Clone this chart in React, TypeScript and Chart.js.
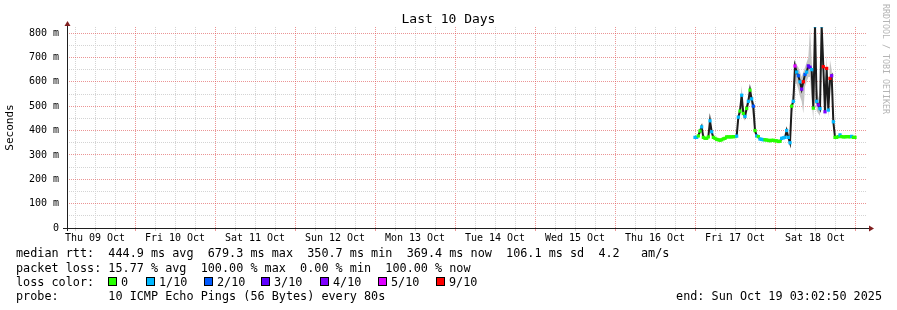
import React, { useEffect, useRef } from 'react';
import { Chart, registerables } from 'chart.js';

Chart.register(...registerables);

// hours since Thu 09 Oct 00:00
const HOURS = [
  192, 192.5, 193, 193.5, 194, 194.5, 195, 195.5, 196, 196.5, 197, 197.5, 198, 198.5, 199, 199.5,
  200, 200.5, 201, 201.5, 202, 202.5, 203, 203.5, 204, 204.5, 205, 205.5, 206, 206.5, 207, 207.5,
  208, 208.5, 209, 209.5, 210, 210.5, 211, 211.5, 212, 212.5, 213, 213.5, 214, 214.5, 215, 215.5,
  216, 216.5, 217, 217.5, 218, 218.5, 219, 219.5, 220, 220.5, 221, 221.5, 222, 222.5, 223, 223.5,
  224, 224.5, 225, 225.5, 226, 226.5, 227, 227.5, 228, 228.5, 229, 229.5, 230, 230.5, 231, 231.5,
  232, 232.5, 233, 233.5, 234, 234.5, 235, 235.5, 236, 236.5, 237, 237.5, 238, 238.5, 239, 239.5, 240,
];

// median rtt (ms)
const MEDIAN = [
  372, 372, 378, 398, 415, 372, 368, 368, 374, 440, 395, 372, 368, 364, 362, 360,
  362, 366, 368, 374, 374, 374, 374, 375, 375, 377, 455, 480, 545, 470, 458, 491,
  520, 566, 530, 500, 400, 378, 375, 365, 364, 362, 362, 361, 360, 358, 360, 360,
  358, 358, 355, 356, 368, 370, 372, 400, 372, 350, 500, 520, 665, 640, 625, 600,
  570, 600, 630, 640, 665, 660, 650, 492, 830, 520, 505, 490, 830, 662, 477, 655,
  484, 614, 625, 436, 372, 372, 375, 382, 375, 374, 374, 375, 375, 374, 376, 372, 372,
];

// lost pings out of 10
const LOSS = [
  1, 1, 0, 0, 1, 0, 0, 0, 0, 1, 1, 0, 0, 0, 0, 0,
  0, 0, 0, 0, 0, 0, 0, 0, 0, 1, 1, 0, 1, 0, 1, 0,
  1, 0, 1, 2, 0, 1, 0, 1, 1, 1, 0, 0, 0, 0, 0, 0,
  0, 0, 0, 0, 1, 1, 1, 1, 1, 1, 0, 1, 5, 1, 2, 1,
  4, 9, 2, 1, 3, 3, 1, 0, 1, 1, 4, 1, 1, 9, 4, 9,
  1, 9, 4, 1, 0, 0, 0, 1, 0, 0, 0, 0, 0, 0, 1, 0, 0,
];

// smoke: lowest / highest ping
const SMOKE_LO = [
  367, 367, 372, 385, 395, 367, 364, 364, 368, 410, 380, 367, 364, 360, 358, 356,
  358, 362, 364, 368, 370, 370, 370, 371, 371, 371, 430, 460, 500, 450, 440, 470,
  495, 530, 500, 440, 385, 372, 369, 361, 360, 358, 358, 357, 356, 354, 356, 356,
  354, 354, 351, 352, 363, 365, 366, 380, 364, 346, 470, 500, 600, 590, 570, 540,
  520, 470, 580, 600, 620, 620, 520, 440, 700, 480, 470, 460, 700, 620, 450, 610,
  450, 580, 600, 420, 366, 367, 370, 376, 370, 370, 370, 371, 371, 370, 371, 368, 368,
];
const SMOKE_HI = [
  377, 377, 386, 412, 430, 378, 373, 373, 382, 455, 405, 377, 372, 368, 366, 364,
  366, 370, 372, 380, 378, 378, 378, 379, 379, 383, 470, 500, 585, 490, 480, 510,
  545, 585, 550, 515, 420, 386, 381, 370, 369, 367, 366, 365, 364, 362, 364, 364,
  362, 362, 359, 360, 373, 375, 378, 412, 378, 358, 520, 560, 690, 670, 660, 640,
  620, 640, 660, 680, 700, 820, 690, 540, 830, 580, 540, 520, 830, 700, 520, 710,
  520, 690, 650, 470, 380, 377, 380, 388, 380, 378, 378, 379, 379, 378, 381, 376, 376,
];

const DAY_LABELS = [
  'Thu 09 Oct', 'Fri 10 Oct', 'Sat 11 Oct', 'Sun 12 Oct', 'Mon 13 Oct',
  'Tue 14 Oct', 'Wed 15 Oct', 'Thu 16 Oct', 'Fri 17 Oct', 'Sat 18 Oct',
];

const LOSS_LABELS = ['0', '1/10', '2/10', '3/10', '4/10', '5/10', '9/10'];
const LOSS_COLORS = ['#26ff00', '#00b8ff', '#0059ff', '#5e00ff', '#7e00ff', '#dd00ff', '#ff0000'];

const TITLE = 'Last 10 Days';
const Y_TITLE = 'Seconds';
const LEGEND_RTT = 'median rtt:  444.9 ms avg  679.3 ms max  350.7 ms min  369.4 ms now  106.1 ms sd  4.2   am/s';
const LEGEND_LOSS = 'packet loss: 15.77 % avg  100.00 % max  0.00 % min  100.00 % now';
const LEGEND_PROBE = 'probe:       10 ICMP Echo Pings (56 Bytes) every 80s';
const LEGEND_END = 'end: Sun Oct 19 03:02:50 2025';
const WATERMARK = 'RRDTOOL / TOBI OETIKER';

const MONO = "'DejaVu Sans Mono', monospace";
const MAJOR = 'rgba(222,79,79,0.6)';
const MINOR = '#d4d4d4';

function lossColor(n: number): string {
  if (n >= 6) return LOSS_COLORS[6];
  return LOSS_COLORS[n];
}

const axisPlugin = {
  id: 'axisArrows',
  afterDraw(chart: any) {
    const { ctx, chartArea } = chart;
    const { left, right, top, bottom } = chartArea;
    ctx.save();
    ctx.strokeStyle = '#1f1f1f';
    ctx.lineWidth = 1;
    ctx.beginPath();
    ctx.moveTo(left + 0.5, bottom + 3);
    ctx.lineTo(left + 0.5, top - 2);
    ctx.moveTo(left - 4, bottom + 0.5);
    ctx.lineTo(right + 2, bottom + 0.5);
    ctx.stroke();
    ctx.fillStyle = '#801f1f';
    ctx.beginPath();
    ctx.moveTo(left + 0.5, top - 6);
    ctx.lineTo(left - 2.5, top - 1);
    ctx.lineTo(left + 3.5, top - 1);
    ctx.closePath();
    ctx.fill();
    ctx.beginPath();
    ctx.moveTo(right + 7, bottom + 0.5);
    ctx.lineTo(right + 2, bottom - 2.5);
    ctx.lineTo(right + 2, bottom + 3.5);
    ctx.closePath();
    ctx.fill();
    ctx.restore();
  },
};

export default function App() {
  const ref = useRef<HTMLCanvasElement | null>(null);

  useEffect(() => {
    if (!ref.current) return;
    const hi = HOURS.map((h, i) => ({ x: h, y: SMOKE_HI[i] }));
    const lo = HOURS.map((h, i) => ({ x: h, y: SMOKE_LO[i] }));
    const med = HOURS.map((h, i) => ({ x: h, y: MEDIAN[i] }));
    const chart = new Chart(ref.current, {
      type: 'line',
      data: {
        datasets: [
          {
            data: med,
            order: 0,
            borderColor: '#1c1c1c',
            borderWidth: 2,
            fill: false,
            tension: 0,
            pointStyle: 'rect',
            pointRadius: 2.3,
            pointBorderWidth: 0,
            pointBackgroundColor: LOSS.map(lossColor),
          },
          {
            data: hi,
            order: 1,
            borderWidth: 0,
            pointRadius: 0,
            fill: '+1',
            backgroundColor: '#c4c4c4',
            borderColor: 'rgba(0,0,0,0)',
          },
          {
            data: lo,
            order: 2,
            borderWidth: 0,
            pointRadius: 0,
            fill: false,
            borderColor: 'rgba(0,0,0,0)',
          },
        ],
      },
      options: {
        animation: false,
        responsive: false,
        maintainAspectRatio: false,
        events: [],
        layout: { padding: { left: 0, right: 30, top: 27, bottom: 0 } },
        plugins: {
          legend: { display: false },
          tooltip: { enabled: false },
          title: { display: false },
        },
        scales: {
          x: {
            type: 'linear',
            min: 3.6,
            max: 243.6,
            afterBuildTicks: (s: any) => {
              const t = [];
              for (let h = 6; h <= 240; h += 6) t.push({ value: h });
              s.ticks = t;
            },
            afterFit: (s: any) => {
              s.height = 82;
            },
            ticks: {
              autoSkip: false,
              maxRotation: 0,
              minRotation: 0,
              padding: 1,
              color: '#000',
              font: { family: MONO, size: 10 },
              callback: (v: any) => {
                const n = Number(v);
                if (n % 24 === 12) return DAY_LABELS[(n - 12) / 24] ?? '';
                return '';
              },
            },
            grid: {
              color: (c: any) => (Number(c.tick?.value) % 24 === 0 ? MAJOR : MINOR),
              tickColor: (c: any) => (Number(c.tick?.value) % 24 === 0 ? MAJOR : MINOR),
              tickLength: 3,
              lineWidth: 1,
            },
            border: { display: false, dash: [1, 1] },
          },
          y: {
            min: 0,
            max: 825,
            afterFit: (s: any) => {
              s.width = 67;
            },
            ticks: {
              stepSize: 50,
              includeBounds: false,
              autoSkip: false,
              padding: 8,
              color: '#000',
              font: { family: MONO, size: 10 },
              callback: (v: any) => {
                const n = Number(v);
                if (n % 100 !== 0) return '';
                return n === 0 ? '0' : `${n} m`;
              },
            },
            grid: {
              color: (c: any) => (Number(c.tick?.value) % 100 === 0 ? MAJOR : MINOR),
              drawTicks: false,
              lineWidth: 1,
            },
            border: { display: false, dash: [1, 1] },
            title: {
              display: true,
              text: Y_TITLE,
              color: '#000',
              font: { family: MONO, size: 11 },
              padding: { top: 4, bottom: 0 },
            },
          },
        },
      },
      plugins: [axisPlugin],
    });
    return () => chart.destroy();
  }, []);

  const text: React.CSSProperties = {
    position: 'absolute',
    fontFamily: MONO,
    fontSize: '11.8px',
    lineHeight: '14px',
    whiteSpace: 'pre',
    color: '#000',
  };
  const boxLefts = [108, 146, 204, 261, 320, 378, 436];

  return (
    <div style={{ position: 'absolute', left: 0, top: 0, width: 897, height: 310, background: '#fff', overflow: 'hidden' }}>
      <canvas ref={ref} width={897} height={310} style={{ position: 'absolute', left: 0, top: 0, width: 897, height: 310 }} />
      <div style={{ ...text, left: 0, width: 897, top: 11, textAlign: 'center', fontSize: '13px', lineHeight: '16px' }}>{TITLE}</div>
      <div
        style={{
          position: 'absolute',
          left: 881,
          top: 4,
          writingMode: 'vertical-rl',
          fontFamily: MONO,
          fontSize: '8.3px',
          lineHeight: '10px',
          color: '#b4b4b4',
          whiteSpace: 'pre',
        }}
      >
        {WATERMARK}
      </div>
      <div style={{ ...text, left: 16, top: 246 }}>{LEGEND_RTT}</div>
      <div style={{ ...text, left: 16, top: 261 }}>{LEGEND_LOSS}</div>
      <div style={{ ...text, left: 16, top: 275 }}>{'loss color:'}</div>
      {LOSS_LABELS.map((lab, i) => (
        <React.Fragment key={lab}>
          <div
            style={{
              position: 'absolute',
              left: boxLefts[i],
              top: 277,
              width: 9,
              height: 9,
              boxSizing: 'border-box',
              border: '1px solid #000',
              background: LOSS_COLORS[i],
            }}
          />
          <div style={{ ...text, left: boxLefts[i] + 13, top: 275 }}>{lab}</div>
        </React.Fragment>
      ))}
      <div style={{ ...text, left: 16, top: 289 }}>{LEGEND_PROBE}</div>
      <div style={{ ...text, right: 897 - 882, top: 289 }}>{LEGEND_END}</div>
    </div>
  );
}
